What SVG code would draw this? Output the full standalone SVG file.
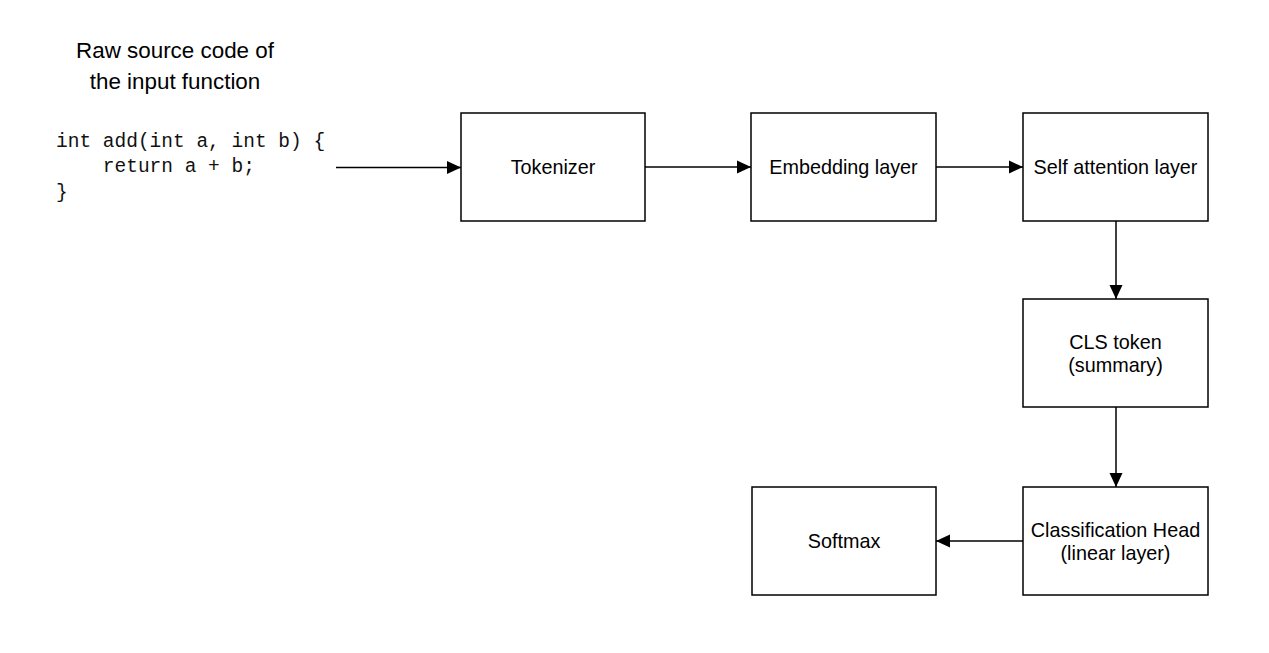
<svg xmlns="http://www.w3.org/2000/svg" width="1269" height="653" viewBox="0 0 1269 653">
  <style>
    .box { fill: #ffffff; stroke: #000000; stroke-width: 1.5; }
    .lbl { font-family: "Liberation Sans", Arial, sans-serif; font-size: 19.8px; fill: #000000; text-anchor: middle; }
    .title { font-family: "Liberation Sans", Arial, sans-serif; font-size: 22.4px; fill: #000000; text-anchor: middle; }
    .code { font-family: "Liberation Mono", "DejaVu Sans Mono", monospace; font-size: 19.5px; fill: #111111; white-space: pre; }
    .edge { fill: none; stroke: #000000; stroke-width: 1.5; }
  </style>
  <defs>
    <marker id="arrow" markerUnits="userSpaceOnUse" markerWidth="14" markerHeight="14" viewBox="0 0 14 14" refX="14" refY="7" orient="auto">
      <path d="M0,0.5 L14,7 L0,13.5 Z" fill="#000000"/>
    </marker>
  </defs>
  <rect width="1269" height="653" fill="#ffffff"/>

  <g id="input">
    <text class="title" x="175" y="58">Raw source code of</text>
    <text class="title" x="175" y="89">the input function</text>
    <text class="code" x="56" y="147" xml:space="preserve">int add(int a, int b) {</text>
    <text class="code" x="56" y="172" xml:space="preserve">    return a + b;</text>
    <text class="code" x="56" y="198" xml:space="preserve">}</text>
  </g>

  <g id="tokenizer">
    <rect class="box" x="461" y="113" width="184" height="108"/>
    <text class="lbl" x="553" y="174">Tokenizer</text>
  </g>

  <g id="embedding">
    <rect class="box" x="751" y="113" width="185" height="108"/>
    <text class="lbl" x="843.5" y="174">Embedding layer</text>
  </g>

  <g id="self-attention">
    <rect class="box" x="1023" y="113" width="185" height="108"/>
    <text class="lbl" x="1115.5" y="174">Self attention layer</text>
  </g>

  <g id="cls-token">
    <rect class="box" x="1023" y="299" width="185" height="108"/>
    <text class="lbl" x="1115.5" y="349">CLS token</text>
    <text class="lbl" x="1115.5" y="372">(summary)</text>
  </g>

  <g id="classification-head">
    <rect class="box" x="1023" y="487" width="185" height="108"/>
    <text class="lbl" x="1115.5" y="536.5">Classification Head</text>
    <text class="lbl" x="1115.5" y="559.5">(linear layer)</text>
  </g>

  <g id="softmax">
    <rect class="box" x="752" y="487" width="184" height="108"/>
    <text class="lbl" x="844" y="548">Softmax</text>
  </g>

  <g id="connectors">
    <path class="edge" d="M336,167.5 H461" marker-end="url(#arrow)"/>
    <path class="edge" d="M645,167 H751" marker-end="url(#arrow)"/>
    <path class="edge" d="M936,167 H1023" marker-end="url(#arrow)"/>
    <path class="edge" d="M1116,221 V299" marker-end="url(#arrow)"/>
    <path class="edge" d="M1116,407 V487" marker-end="url(#arrow)"/>
    <path class="edge" d="M1023,541 H936" marker-end="url(#arrow)"/>
  </g>
</svg>
